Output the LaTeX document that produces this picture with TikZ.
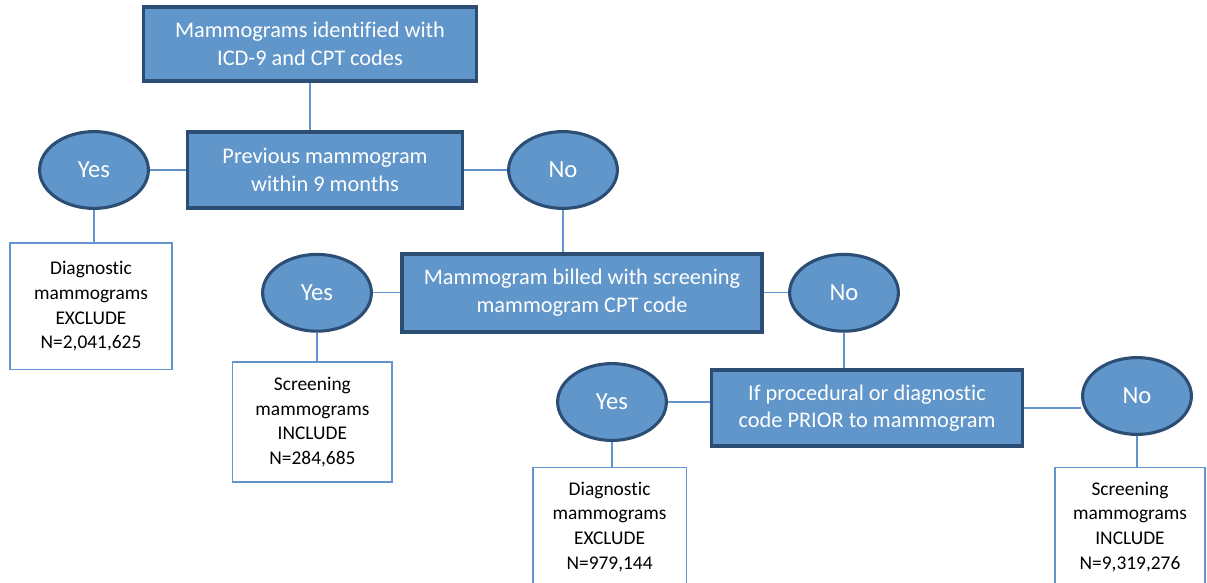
\documentclass[tikz,border=0pt]{standalone}
\usepackage{fontspec}
\setmainfont{Carlito}[Ligatures=CommonOff]
\usetikzlibrary{shapes.geometric}
\definecolor{kfill}{HTML}{6096C9}
\definecolor{kedge}{HTML}{2D4E74}
\definecolor{kline}{HTML}{6294D0}
\begin{document}
\begin{tikzpicture}[
  qbox/.style={draw=kedge,line width=2.6pt,fill=kfill,text=white,align=center,
    inner sep=0pt,font=\fontsize{15.9}{19.5}\selectfont},
  ans/.style={ellipse,draw=kedge,line width=2.2pt,fill=kfill,text=white,
    minimum width=2.72cm,minimum height=1.92cm,inner sep=0pt,font=\fontsize{17.5}{19}\selectfont},
  res/.style={draw=kline,line width=0.9pt,fill=white,align=center,inner sep=0pt,
    font=\fontsize{13.8}{17.5}\selectfont},
  link/.style={draw=kline,line width=0.9pt}]
\useasboundingbox (0,0) rectangle (30.175,-14.55);
\pgfmathsetmacro{\kya}{-4.25}
\pgfmathsetmacro{\kyb}{-7.32}
\pgfmathsetmacro{\kyc}{-10.05}
% questions
\node[qbox,minimum width=8.33cm,minimum height=1.85cm](top) at (7.75,-1.1){Mammograms identified with\\ICD-9 and CPT codes};
\node[qbox,minimum width=6.88cm,minimum height=1.9cm](prev) at (8.125,\kya){Previous mammogram\\within 9 months};
\node[qbox,minimum width=9.0cm,minimum height=1.95cm](bill) at (14.55,\kyb){Mammogram billed with screening\\mammogram CPT code};
\node[qbox,minimum width=7.78cm,minimum height=1.9cm](prior) at (21.675,-10.2){If procedural or diagnostic\\code PRIOR to mammogram};
% answers
\node[ans](yesa) at (2.35,\kya){Yes};
\node[ans](noa) at (14.075,\kya){No};
\node[ans](yesb) at (7.925,\kyb){Yes};
\node[ans](nob) at (21.1,\kyb){No};
\node[ans](yesc) at (15.3,\kyc){Yes};
\node[ans](noc) at (28.425,-9.9){No};
% results
\node[res,minimum width=4.05cm,minimum height=3.17cm](dxa) at (2.275,-7.66){Diagnostic\\mammograms\\EXCLUDE\\N=2,041,625};
\node[res,minimum width=3.98cm,minimum height=3.0cm](scb) at (7.81,-10.55){Screening\\mammograms\\INCLUDE\\N=284,685};
\node[res,minimum width=3.83cm,minimum height=2.95cm](dxc) at (15.24,-13.17){Diagnostic\\mammograms\\EXCLUDE\\N=979,144};
\node[res,minimum width=3.75cm,minimum height=2.95cm](scd) at (28.25,-13.17){Screening\\mammograms\\INCLUDE\\N=9,319,276};
% connectors
\draw[link](top.south)--(top.south|-prev.north);
\draw[link](yesa.east)--(yesa.east-|prev.west);
\draw[link](prev.east)--(prev.east-|noa.west);
\draw[link](yesa.south)--(yesa.south|-dxa.north);
\draw[link](noa.south)--(noa.south|-bill.north);
\draw[link](yesb.east)--(yesb.east-|bill.west);
\draw[link](bill.east)--(bill.east-|nob.west);
\draw[link](yesb.south)--(yesb.south|-scb.north);
\draw[link](nob.south)--(nob.south|-prior.north);
\draw[link](yesc.east)--(yesc.east-|prior.west);
\draw[link](prior.east)--(prior.east-|noc.west);
\draw[link](yesc.south)--(yesc.south|-dxc.north);
\draw[link](noc.south)--(noc.south|-scd.north);
\end{tikzpicture}
\end{document}
